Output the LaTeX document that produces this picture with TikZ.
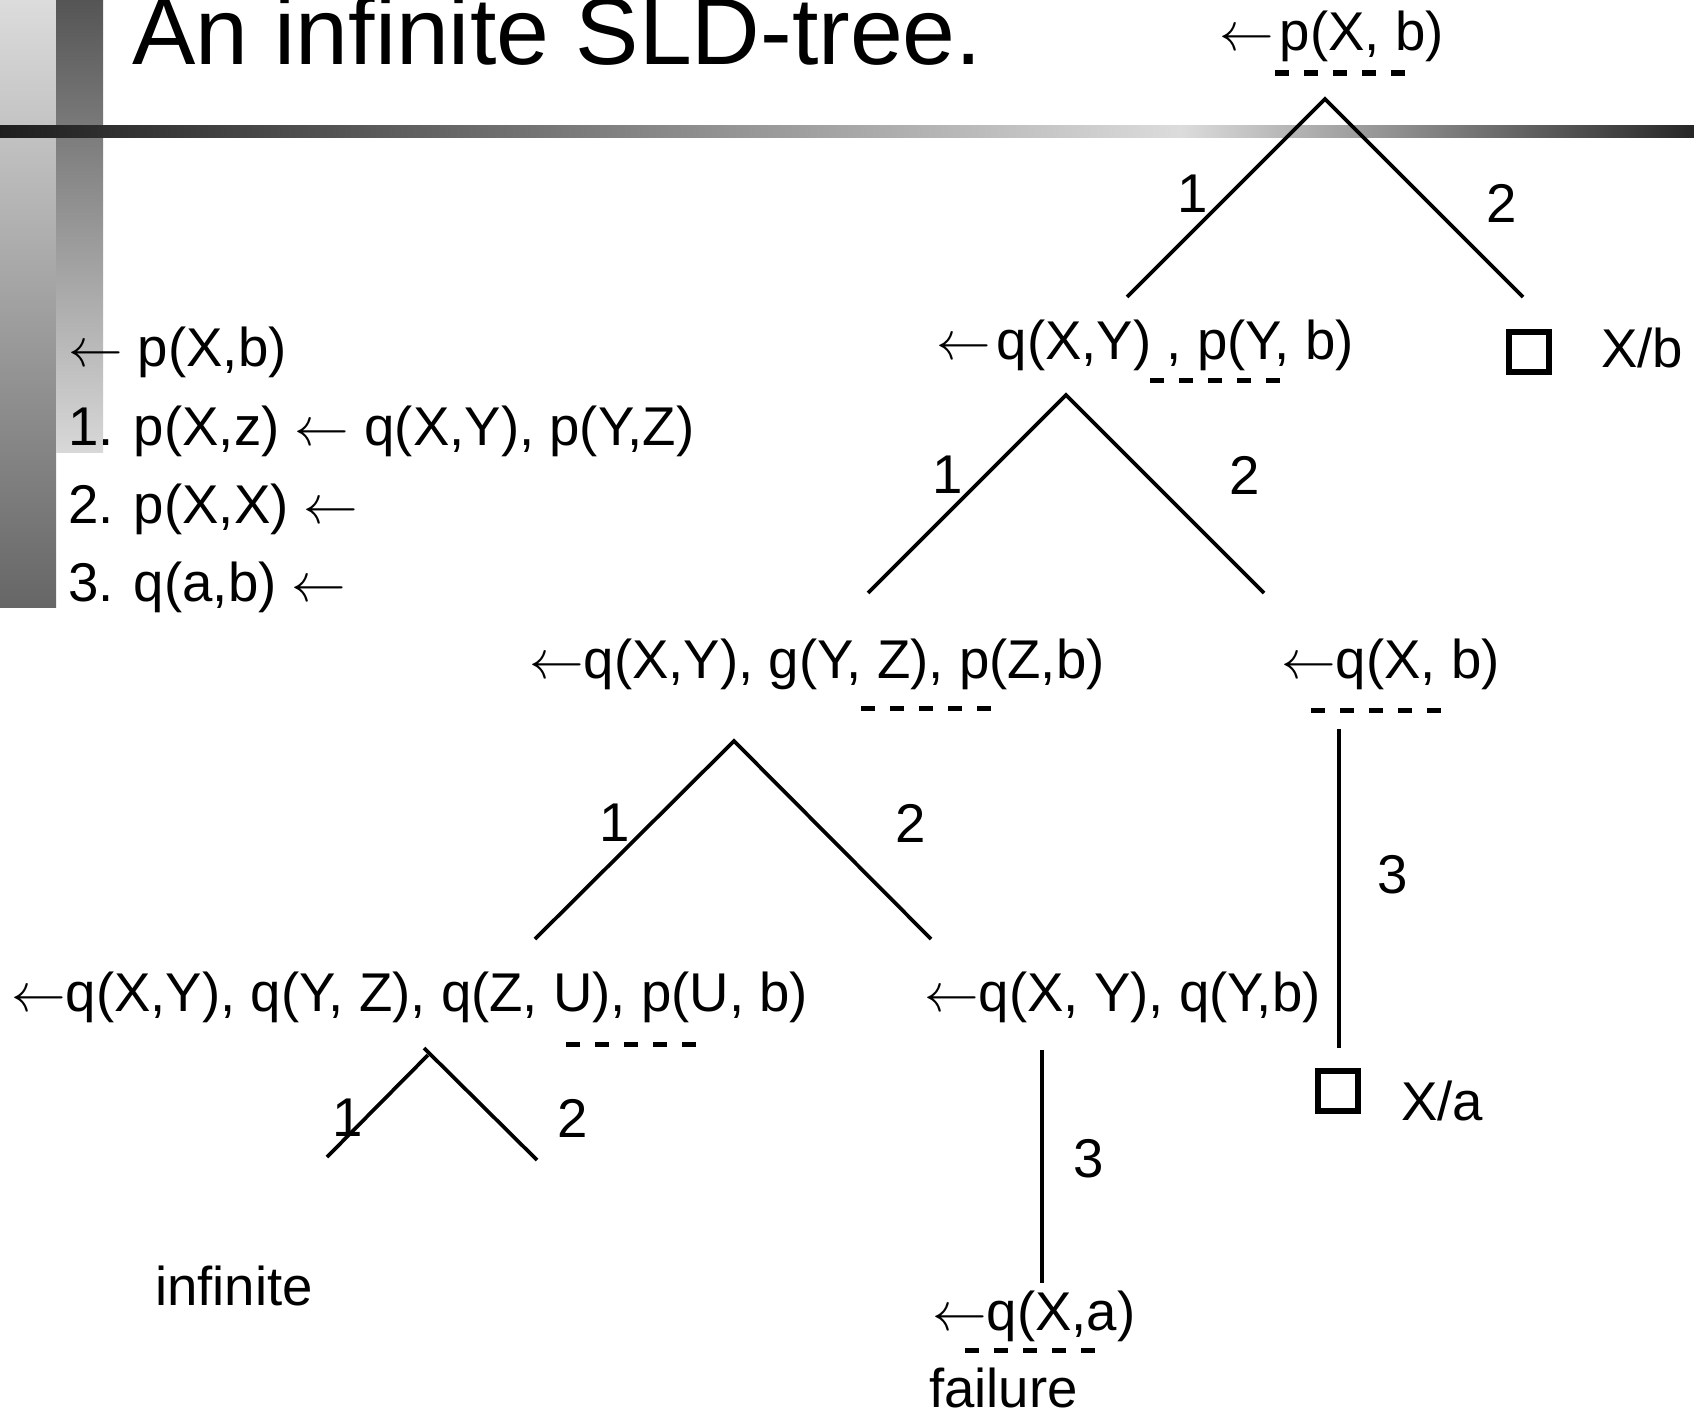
\RequirePackage{fix-cm}
\documentclass[tikz,border=0pt]{standalone}
\usepackage{fontspec}
\setmainfont{Liberation Sans}
\usepackage{graphicx}
\definecolor{obTop}{HTML}{DCDCDC}
\definecolor{obBot}{HTML}{666666}
\definecolor{ibTop}{HTML}{555555}
\definecolor{ibBot}{HTML}{D8D8D8}
\definecolor{hbL}{HTML}{1E1E1E}
\definecolor{hbM}{HTML}{DCDCDC}
\definecolor{hbR}{HTML}{262626}
\newcommand{\la}{$\leftarrow$}
\begin{document}
\begin{tikzpicture}[x=1pt,y=-1pt,
  txt/.style={anchor=base west, inner sep=0pt, font=\fontsize{54.6}{60}\selectfont},
  lbl/.style={inner sep=0pt, font=\fontsize{54.6}{60}\selectfont},
  edge/.style={line width=3.7pt},
  und/.style={line width=5pt, dash pattern=on 14pt off 15pt},
  sq/.style={draw, line width=5.2pt, minimum size=40pt, inner sep=0pt}]
\useasboundingbox (0,0) rectangle (1694,1413);
\fill[white] (0,0) rectangle (1694,1413);
% background decoration
\shade[top color=obTop, bottom color=obBot] (0,0) rectangle (56,607);
\shade[top color=ibTop, bottom color=ibBot] (56,0) rectangle (103,452);
\shade[left color=hbL, right color=hbM] (0,125) rectangle (1180,137);
\shade[left color=hbM, right color=hbR] (1180,125) rectangle (1694,137);
% title
\node[anchor=base west, inner sep=0pt, font=\fontsize{95}{100}\selectfont] (title) at (132,64) {An infinite SLD-tree.};
% program
\node[txt] (c0) at (68,366) {\la\ p(X,b)};
\node[txt] (c1) at (68,445) {1. p(X,z) \la\ q(X,Y), p(Y,Z)};
\node[txt] (c2) at (68,523) {2. p(X,X) \la};
\node[txt] (c3) at (68,601) {3. q(a,b) \la};
% goals
\node[txt] (g0) at (1219,51) {\la\hspace{6pt}p(X, b)};
\node[txt] (g1) at (936,359) {\la\hspace{6pt}q(X,Y) , p(Y, b)};
\node[txt] (g2) at (529,678) {\la q(X,Y), g(Y, Z), p(Z,b)};
\node[txt] (g3) at (1281,678) {\la q(X, b)};
\node[txt] (g4) at (11,1011) {\la q(X,Y), q(Y, Z), q(Z, U), p(U, b)};
\node[txt] (g5) at (924,1011) {\la q(X, Y), q(Y,b)};
\node[txt] (g6) at (932,1330) {\la q(X,a)};
\node[txt] (fail) at (929,1407) {failure};
\node[txt] (inf) at (155,1305) {infinite};
% selected atoms
\draw[und] (1275,73) -- (1407,73);
\draw[und] (1150,380) -- (1282,380);
\draw[und] (861,708) -- (993,708);
\draw[und] (1311,710) -- (1443,710);
\draw[und] (566,1044) -- (698,1044);
\draw[und] (965,1350) -- (1097,1350);
% success leaves
\node[sq] (s1) at (1529,352) {};
\node[txt] (x1) at (1601,367) {X/b};
\node[sq] (s2) at (1338,1091) {};
\node[txt] (x2) at (1401,1120) {X/a};
% tree branches
\coordinate (a0) at (1325,99);  \coordinate (a0l) at (1127,297); \coordinate (a0r) at (1523,297);
\coordinate (a1) at (1066,395); \coordinate (a1l) at (868,593);  \coordinate (a1r) at (1264,593);
\coordinate (a2) at (734,741);  \coordinate (a2l) at (535,939);  \coordinate (a2r) at (931,939);
\coordinate (a3l) at (327,1157); \coordinate (a3lt) at (428,1055);
\coordinate (a3rt) at (424,1048); \coordinate (a3r) at (537,1160);
\coordinate (v1t) at (1339,729); \coordinate (v1b) at (1339,1048);
\coordinate (v2t) at (1042,1050); \coordinate (v2b) at (1042,1283);
\draw[edge] (a0l) -- (a0) -- (a0r);
\draw[edge] (a1l) -- (a1) -- (a1r);
\draw[edge] (a2l) -- (a2) -- (a2r);
\draw[edge] (a3l) -- (a3lt);
\draw[edge] (a3rt) -- (a3r);
\draw[edge] (v1t) -- (v1b);
\draw[edge] (v2t) -- (v2b);
% branch labels
\node[lbl] (e01) at (1193,194) {1};
\node[lbl] (e02) at (1502,203) {2};
\node[lbl] (e11) at (948,475) {1};
\node[lbl] (e12) at (1245,475) {2};
\node[lbl] (e21) at (615,823) {1};
\node[lbl] (e22) at (911,823) {2};
\node[lbl] (e31) at (348,1118) {1};
\node[lbl] (e32) at (573,1118) {2};
\node[lbl] (e41) at (1393,875) {3};
\node[lbl] (e51) at (1089,1159) {3};
\end{tikzpicture}
\end{document}
